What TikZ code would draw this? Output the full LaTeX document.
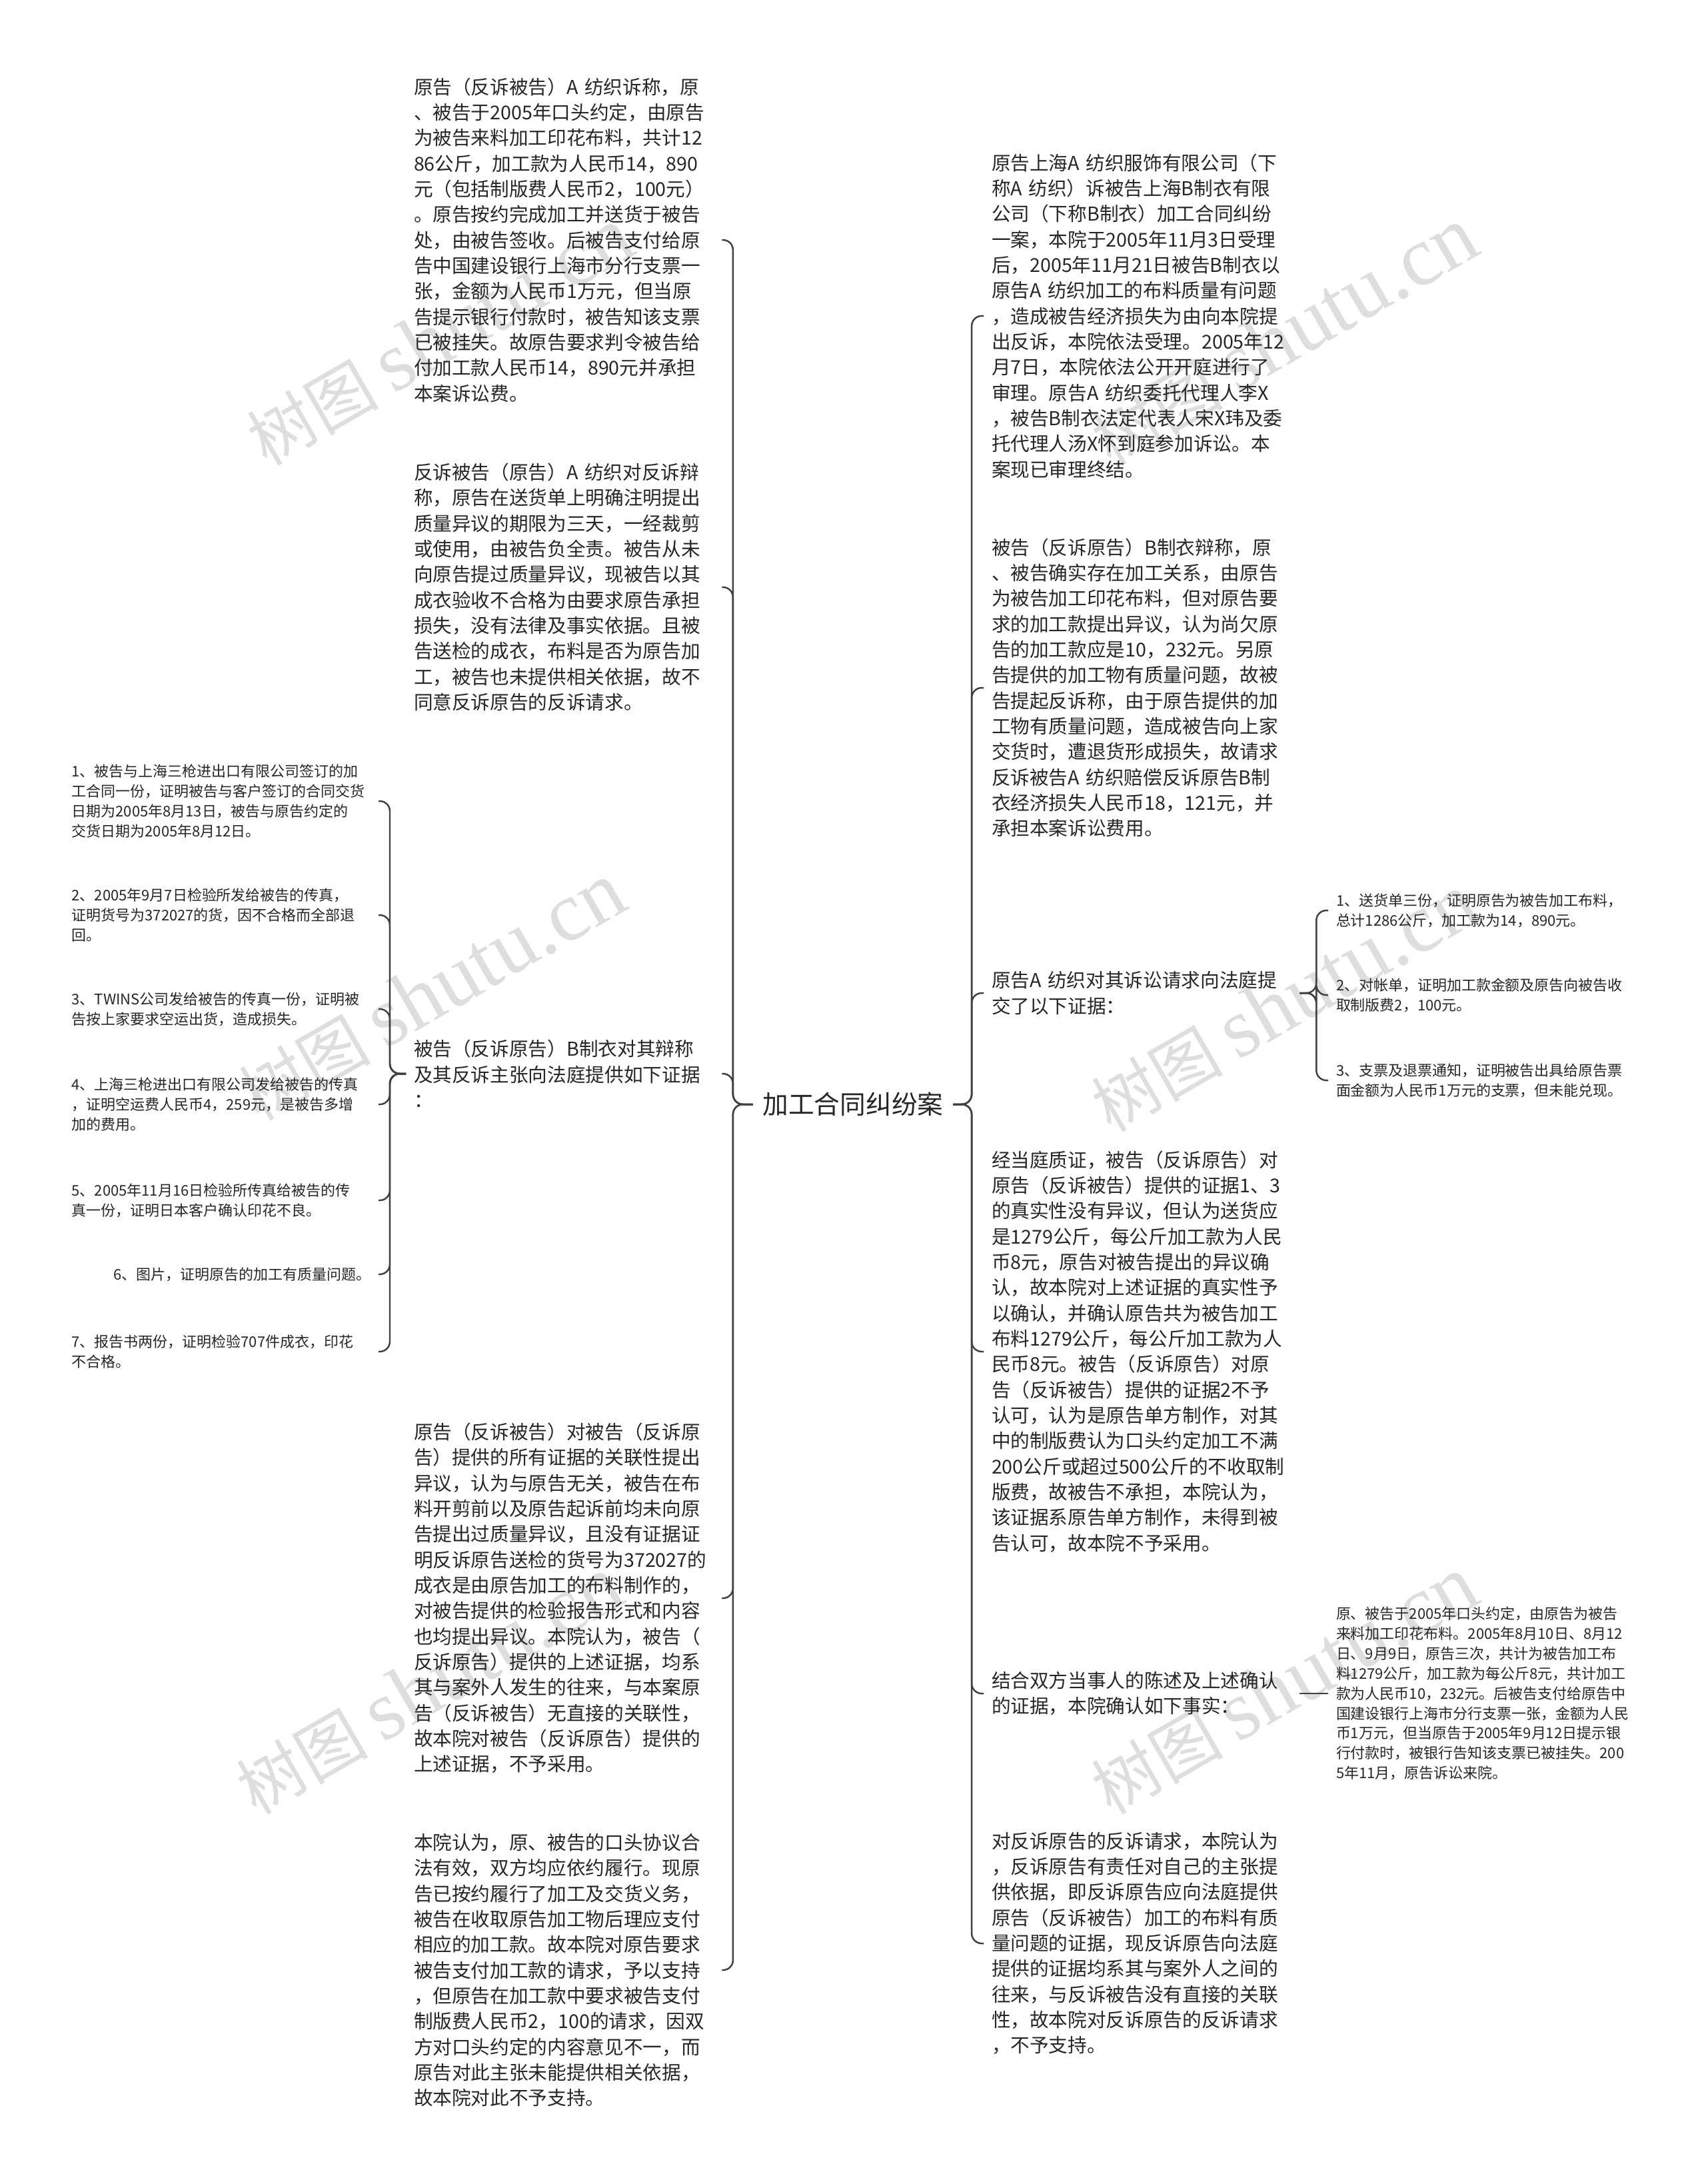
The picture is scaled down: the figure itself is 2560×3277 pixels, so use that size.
\documentclass[tikz,border=0pt]{standalone}
\usepackage{fontspec}
\setmainfont{Noto Sans CJK SC}
\newfontfamily\wmlatin{Liberation Serif}
\usepackage{tikz}

\tikzset{
  link/.style={draw=black!75, line width=0.7pt, rounded corners=0.15cm},
  rootbox/.style={font=\fontsize{11pt}{14pt}\selectfont, text=black!85, inner xsep=0.14cm, inner ysep=0.1cm},
  leafbox/.style={font=\fontsize{8.15pt}{10.9pt}\selectfont, text=black!85, align=left, text width=4.5cm, inner sep=0pt, outer xsep=0.12cm},
  notebox/.style={font=\fontsize{6.25pt}{8.5pt}\selectfont, text=black!85, align=left, inner sep=0pt, outer xsep=0.12cm},
  notewide/.style={notebox, text width=4.48cm},
  wmark/.style={text=black!13, rotate=30, font=\fontsize{28pt}{30pt}\selectfont}
}

\begin{document}
\begin{tikzpicture}[x=0.01cm, y=-0.01cm]

    % Fondo y margenes
    \useasboundingbox (0,0) rectangle (2560,3277);
    \fill[white] (0,0) rectangle (2560,3277);

    % Marcas de agua
    \node[wmark] (wm1) at (660,505) {树图 {\wmlatin\fontsize{36pt}{38pt}\selectfont shutu.cn}};
    \node[wmark] (wm2) at (648,1488) {树图 {\wmlatin\fontsize{36pt}{38pt}\selectfont shutu.cn}};
    \node[wmark] (wm3) at (644,2529) {树图 {\wmlatin\fontsize{36pt}{38pt}\selectfont shutu.cn}};
    \node[wmark] (wm4) at (1927,505) {树图 {\wmlatin\fontsize{36pt}{38pt}\selectfont shutu.cn}};
    \node[wmark] (wm5) at (1927,1505) {树图 {\wmlatin\fontsize{36pt}{38pt}\selectfont shutu.cn}};
    \node[wmark] (wm6) at (1927,2529) {树图 {\wmlatin\fontsize{36pt}{38pt}\selectfont shutu.cn}};

    % Nodo central
    \node[rootbox] (root) at (1280,1657) {加工合同纠纷案};

    % Rama izquierda
    \node[leafbox, anchor=west] (L1) at (609,360) {原告（反诉被告）A~纺织诉称，原\\、被告于2005年口头约定，由原告\\为被告来料加工印花布料，共计12\\86公斤，加工款为人民币14，890\\元（包括制版费人民币2，100元）\\。原告按约完成加工并送货于被告\\处，由被告签收。后被告支付给原\\告中国建设银行上海市分行支票一\\张，金额为人民币1万元，但当原\\告提示银行付款时，被告知该支票\\已被挂失。故原告要求判令被告给\\付加工款人民币14，890元并承担\\本案诉讼费。};
    \node[leafbox, anchor=west] (L2) at (609,881) {反诉被告（原告）A~纺织对反诉辩\\称，原告在送货单上明确注明提出\\质量异议的期限为三天，一经裁剪\\或使用，由被告负全责。被告从未\\向原告提过质量异议，现被告以其\\成衣验收不合格为由要求原告承担\\损失，没有法律及事实依据。且被\\告送检的成衣，布料是否为原告加\\工，被告也未提供相关依据，故不\\同意反诉原告的反诉请求。};
    \node[leafbox, anchor=west] (L3) at (609,1611) {被告（反诉原告）B制衣对其辩称\\及其反诉主张向法庭提供如下证据\\：};
    \node[leafbox, anchor=west] (L4) at (609,2398) {原告（反诉被告）对被告（反诉原\\告）提供的所有证据的关联性提出\\异议，认为与原告无关，被告在布\\料开剪前以及原告起诉前均未向原\\告提出过质量异议，且没有证据证\\明反诉原告送检的货号为372027的\\成衣是由原告加工的布料制作的，\\对被告提供的检验报告形式和内容\\也均提出异议。本院认为，被告（\\反诉原告）提供的上述证据，均系\\其与案外人发生的往来，与本案原\\告（反诉被告）无直接的关联性，\\故本院对被告（反诉原告）提供的\\上述证据，不予采用。};
    \node[leafbox, anchor=west] (L5) at (609,2956) {本院认为，原、被告的口头协议合\\法有效，双方均应依约履行。现原\\告已按约履行了加工及交货义务，\\被告在收取原告加工物后理应支付\\相应的加工款。故本院对原告要求\\被告支付加工款的请求，予以支持\\，但原告在加工款中要求被告支付\\制版费人民币2，100的请求，因双\\方对口头约定的内容意见不一，而\\原告对此主张未能提供相关依据，\\故本院对此不予支持。};

    % Pruebas del demandado
    \node[notewide, anchor=east] (S1) at (568,1202) {1、被告与上海三枪进出口有限公司签订的加\\工合同一份，证明被告与客户签订的合同交货\\日期为2005年8月13日，被告与原告约定的\\交货日期为2005年8月12日。};
    \node[notewide, anchor=east] (S2) at (568,1373) {2、2005年9月7日检验所发给被告的传真，\\证明货号为372027的货，因不合格而全部退\\回。};
    \node[notewide, anchor=east] (S3) at (568,1514) {3、TWINS公司发给被告的传真一份，证明被\\告按上家要求空运出货，造成损失。};
    \node[notewide, anchor=east] (S4) at (568,1657) {4、上海三枪进出口有限公司发给被告的传真\\，证明空运费人民币4，259元，是被告多增\\加的费用。};
    \node[notewide, anchor=east] (S5) at (568,1801) {5、2005年11月16日检验所传真给被告的传\\真一份，证明日本客户确认印花不良。};
    \node[notebox, anchor=east] (S6) at (568,1912) {6、图片，证明原告的加工有质量问题。};
    \node[notewide, anchor=east] (S7) at (568,2028) {7、报告书两份，证明检验707件成衣，印花\\不合格。};

    % Rama derecha
    \node[leafbox, anchor=west] (R1) at (1476,474) {原告上海A~纺织服饰有限公司（下\\称A~纺织）诉被告上海B制衣有限\\公司（下称B制衣）加工合同纠纷\\一案，本院于2005年11月3日受理\\后，2005年11月21日被告B制衣以\\原告A~纺织加工的布料质量有问题\\，造成被告经济损失为由向本院提\\出反诉，本院依法受理。2005年12\\月7日，本院依法公开开庭进行了\\审理。原告A~纺织委托代理人李X\\，被告B制衣法定代表人宋X玮及委\\托代理人汤X怀到庭参加诉讼。本\\案现已审理终结。};
    \node[leafbox, anchor=west] (R2) at (1476,1032) {被告（反诉原告）B制衣辩称，原\\、被告确实存在加工关系，由原告\\为被告加工印花布料，但对原告要\\求的加工款提出异议，认为尚欠原\\告的加工款应是10，232元。另原\\告提供的加工物有质量问题，故被\\告提起反诉称，由于原告提供的加\\工物有质量问题，造成被告向上家\\交货时，遭退货形成损失，故请求\\反诉被告A~纺织赔偿反诉原告B制\\衣经济损失人民币18，121元，并\\承担本案诉讼费用。};
    \node[leafbox, anchor=west] (R3) at (1476,1490) {原告A~纺织对其诉讼请求向法庭提\\交了以下证据：};
    \node[leafbox, anchor=west] (R4) at (1476,2028) {经当庭质证，被告（反诉原告）对\\原告（反诉被告）提供的证据1、3\\的真实性没有异议，但认为送货应\\是1279公斤，每公斤加工款为人民\\币8元，原告对被告提出的异议确\\认，故本院对上述证据的真实性予\\以确认，并确认原告共为被告加工\\布料1279公斤，每公斤加工款为人\\民币8元。被告（反诉原告）对原\\告（反诉被告）提供的证据2不予\\认可，认为是原告单方制作，对其\\中的制版费认为口头约定加工不满\\200公斤或超过500公斤的不收取制\\版费，故被告不承担，本院认为，\\该证据系原告单方制作，未得到被\\告认可，故本院不予采用。};
    \node[leafbox, anchor=west] (R5) at (1476,2541) {结合双方当事人的陈述及上述确认\\的证据，本院确认如下事实：};
    \node[leafbox, anchor=west] (R6) at (1476,2916) {对反诉原告的反诉请求，本院认为\\，反诉原告有责任对自己的主张提\\供依据，即反诉原告应向法庭提供\\原告（反诉被告）加工的布料有质\\量问题的证据，现反诉原告向法庭\\提供的证据均系其与案外人之间的\\往来，与反诉被告没有直接的关联\\性，故本院对反诉原告的反诉请求\\，不予支持。};

    % Pruebas del demandante
    \node[notewide, anchor=west] (T1) at (1993,1366) {1、送货单三份，证明原告为被告加工布料，\\总计1286公斤，加工款为14，890元。};
    \node[notewide, anchor=west] (T2) at (1993,1493) {2、对帐单，证明加工款金额及原告向被告收\\取制版费2，100元。};
    \node[notewide, anchor=west] (T3) at (1993,1621) {3、支票及退票通知，证明被告出具给原告票\\面金额为人民币1万元的支票，但未能兑现。};
    \node[notewide, anchor=west] (T5) at (1993,2541) {原、被告于2005年口头约定，由原告为被告\\来料加工印花布料。2005年8月10日、8月12\\日、9月9日，原告三次，共计为被告加工布\\料1279公斤，加工款为每公斤8元，共计加工\\款为人民币10，232元。后被告支付给原告中\\国建设银行上海市分行支票一张，金额为人民\\币1万元，但当原告于2005年9月12日提示银\\行付款时，被银行告知该支票已被挂失。200\\5年11月，原告诉讼来院。};

    % Conectores
    \path (root.west) ++(-30,0) coordinate (lbus);
    \path (root.east) ++(28,0) coordinate (rbus);
    \path (L3.west) ++(-24,0) coordinate (ebus);
    \path (R3.east) ++(25,0) coordinate (tbus);

    \foreach \n in {L1,L2,L3,L4,L5}
      \draw[link] (root.west) -- (lbus) |- (\n.east);
    \foreach \n in {R1,R2,R3,R4,R5,R6}
      \draw[link] (root.east) -- (rbus) |- (\n.west);
    \foreach \n in {S1,S2,S3,S4,S5,S6,S7}
      \draw[link] (L3.west) -- (ebus) |- (\n.east);
    \foreach \n in {T1,T2,T3}
      \draw[link] (R3.east) -- (tbus) |- (\n.west);
    \draw[link] (R5.east) -- (T5.west);

\end{tikzpicture}
\end{document}
